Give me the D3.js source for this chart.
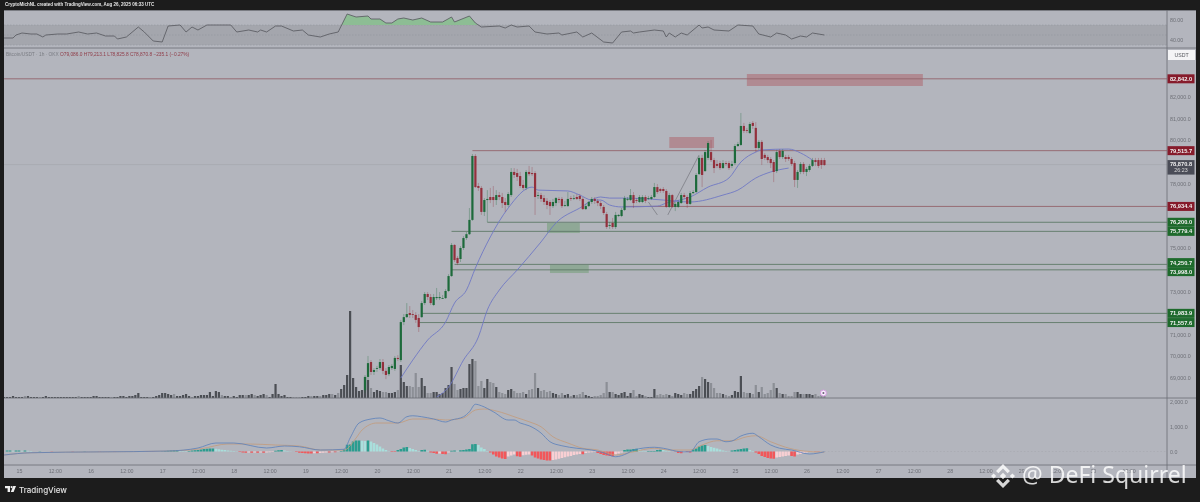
<!DOCTYPE html>
<html>
<head>
<meta charset="utf-8">
<script src="https://cdn.jsdelivr.net/npm/d3@7"></script>
<style>
	html, body { margin: 0; padding: 0; background: #1c1c1c; overflow: hidden; }
	svg { display: block; font-family: "Liberation Sans", sans-serif; filter: blur(0.3px); }
</style>
</head>
<body>
<script>
// SVG Size
let width = 1200,
	height = 502;

// hourly candles, first one is hour 116 counted from Aug 15 00:00
const firstCandleHour = 116;
const candleOpen = [68430,69040,69730,69270,69410,69450,69730,69320,69170,69450,69410,69920,69820,71580,71810,72000,71950,71910,71770,71810,72460,72880,72740,72370,72690,72690,72690,72690,73020,73710,75150,74550,74500,75010,75470,75650,76310,79270,77880,77790,76680,77230,77370,77370,77230,77460,77370,77140,77000,77460,78530,78480,78340,77930,77790,78530,78480,78480,77420,77460,77320,77190,77140,76950,77090,77280,77280,77000,76950,77320,77320,77370,77420,77280,76810,76950,77140,77280,77190,77090,76910,76580,76030,76170,75980,76490,76490,76770,77280,77230,77460,77230,77140,77140,77370,77320,77280,77370,77830,77740,77740,77650,76910,77460,76910,76910,77090,77460,77370,77050,77550,77600,78430,79180,78570,79180,79450,79080,78900,78940,78710,78940,78940,78810,78940,79730,79780,80660,80470,80330,80800,80570,79640,79920,79320,79220,79130,78990,78570,79500,79220,79220,79220,79130,78940,78160,78530,78900,78530,78620,78810,79080,79080,79080,79080];
const candleClose = [69040,69680,69270,69360,69450,69730,69320,69130,69500,69550,69920,69870,71580,71810,71950,71910,71910,71680,71350,72460,72880,72740,72460,72740,72740,72740,72690,73020,73710,75150,74450,74310,75010,75470,75650,76310,79270,77830,77790,76680,77230,77280,77230,77230,77460,77370,77090,77000,77510,78530,78390,78300,77880,77790,78530,78430,78430,77370,77460,77280,77140,77000,76950,77140,77320,77230,76950,77000,77280,77280,77320,77280,77280,76810,76950,77140,77280,77190,77090,76950,76630,75980,76070,75980,76540,76540,76770,77320,77280,77460,77090,77190,77370,77370,77190,77320,77370,77830,77600,77650,77650,76910,77460,76910,77050,77140,77460,77370,77050,77550,77600,78390,79180,78390,79450,79870,79080,78710,78810,78710,78940,78900,78710,78900,79730,79820,80660,80430,80430,80750,80660,79640,79920,79130,79180,79080,78940,78530,79450,79220,79500,79130,79130,78900,78160,78530,78900,78530,78670,78810,79080,78990,78810,78850,78850];
const candleHigh = [69130,70010,69820,69450,69550,69870,69870,69450,69590,69640,70010,70050,71680,71950,72460,72320,72140,72040,71950,72550,72970,72970,72880,72880,73160,72970,72830,73110,73800,75240,75190,74640,75100,75560,75750,76860,79360,79360,78020,77880,77320,77690,77790,77880,77690,77600,77560,77320,77600,78710,78710,78670,78530,78160,78620,78810,78760,78570,77600,77560,77460,77320,77230,77280,77370,77370,77370,77190,77600,77420,77460,77510,77510,77370,77050,77190,77370,77370,77280,77190,77000,76680,76210,76400,76680,76580,76860,77420,77370,77740,77600,77320,77460,77460,77460,77420,77460,78020,77970,77790,77830,77740,77560,77510,77140,77230,77560,77560,77460,77650,77690,78480,79270,79320,79550,79960,80010,79180,79080,79040,79080,79040,79040,79040,79820,79920,81260,80800,80570,80840,80890,80840,80010,80010,79410,79320,79220,79080,79550,79590,79590,79320,79320,79220,79040,78620,78990,78990,78760,78900,79180,79180,79180,79180,79180];
const candleLow = [68300,68900,69130,69130,69270,69360,69170,68940,69080,69360,69320,69780,69730,71440,71770,71770,71770,71540,71120,71770,72370,72600,72370,72320,72600,72600,72650,72650,72970,73670,74360,74220,74360,74920,75380,75610,76260,77790,77650,76540,76490,76210,77090,76910,77000,77230,76860,76680,76910,77370,78250,78110,77790,77690,77690,78340,78340,76540,77280,77140,77000,76810,76540,76860,76950,77090,76860,76910,76910,77190,77230,77230,77190,76770,76770,76910,77050,77050,76950,76810,76540,75890,75890,75890,75890,76440,76440,76720,77190,77190,76860,77090,77090,77090,77090,77230,77230,77320,77510,77560,77560,76860,76860,76860,76720,76860,77050,77280,76860,77000,77510,77560,78390,77830,78530,79080,78990,78480,78710,78620,78670,78810,78620,78710,78850,79690,79730,80330,80330,80290,80520,79450,79550,78850,79080,78940,78710,78060,78480,79130,79130,78990,79040,78810,77830,77790,78430,78430,78340,78530,78760,78810,78710,78670,78810];

// volume starts at hour -5, long before the first candle
const firstVolumeHour = -5;
const volume = [1,1,1,2,1,1,1,2,2,1, 1,1,1,1,2,1,1,1,1,1, 1,1,1,1,1,2,1,1,1,1, 2,2,1,1,1,1,1,1,1,2, 2,1,2,2,3,
	5,1,1,1,1,1,2,3,5,5, 4,3,4,2,2,3,4,2,1,2, 2,3,3,3,6,2,7,6,3,2, 2,1,2,1,3,3,3,3,4,3, 2,3,4,3,1,4,14,4,2,3, 1,1,1,1,1,1,1,2,2,2,
	2,2,3,3,4,4,3,5,9, 13,23,87,20,11,7,8,
	21,18,10,6,8,7,6,6,5,5,6,8, 33,16,12,12,11,25,11,20,12,5,5,6,6,4,5,10,13,31,
	14,8,9,10,10,34,39,37,12,17,10,19,16,15,11,6,5,4,8,9,7,5,5,6,4,8,9,25,
	10,7,8,6,7,5,4,3,5,3,4,2,3,3,4,6,3,2,
	1,2,2,3,5,16,6,6,4,3,5,6,2,5,8,2,4,3,2,1,1,9,3,4,3,4,3,2,5,4,3,5,4,4,7,9,12,21,19,16,15,10,5,5,4,3,2,3,7,6,22,6,5,5,4,13,6,11,4,5,8,15,10,5,4,4,2,2,6,6,4,4,4,4,3,4,2,3,2];
// hours before the first candle whose volume bar is the lighter (down) grey
const lightVolumeHours = [2,7,20,31,44,52,58,68,71,76,79,83,92,93,94,98,101,105,107];

// moving averages
const maFastHours = [128,132,137,143,146,150,153,158,164,172,174,184,188,192,195,198,202,214,217,225,231,238,242,247,249,258,262,266];
const maFastValues = [68990,69820,70750,71580,72460,73060,74080,75520,76860,77830,77690,77650,77460,77230,77230,77000,76910,76950,77090,77370,77830,78250,78990,79450,79550,79590,79410,79080];
const maSlowHours = [140,144,149,154,157,161,167,175,180,188,195,198,202,211,216,225,236,241,247,252,258];
const maSlowValues = [68110,68570,69820,70890,72140,73060,73990,75290,76170,76860,77370,77320,77320,77280,77230,77140,77460,77690,78250,78530,78710];

// hand drawn horizontal levels
const levelPrices = [82842.0,79515.7,76934.4,76200.0,75779.4,74250.7,73998.0,71983.9,71557.6];
const levelKinds = ["red","red","red","green","green","green","green","green","green"];
const levelStartHours = [-5,152,203,157,145,146,145,135,134];

// hand drawn boxes: kind, hour from, hour to, price top, price bottom
const zoneKinds = ["red","red","green","green"];
const zoneFromHours = [244,218,177,178];
const zoneToHours = [303,233,188,191];
const zoneTopPrices = [83065,80148,76166,74222];
const zoneBottomPrices = [82509,79639,75703,73851];

// the two thin drawn strokes near the 24th
const strokeHours = [[211,214],[217.5,228]];
const strokePrices = [[77140,76540],[76540,79315]];

const priceTicks = [82000,81000,80000,78000,75000,73000,71000,70000,69000];
const currentPrice = 78870.8;
const countdown = "26:23";

// RSI pane
const rsiHours = [-5,-2,-1,1,4,6,8,9,13,16,20,23,26,29,32,33,36,40,42,45,48,50,54,56,58,60,63,65,68,71,73,77,80,81,83,86,88,92,95,97,101,104,107,
	108,110,113,117,118,121,123,125,127,129,132,135,138,142,145,146,151,153,155,161,163,165,167,171,173,177,181,182,187,189,192,196,199,202,205,206,208,213,216,217,218,220,222,224,228,229,231,233,238,241,246,248,252,254,257,259,262,264,266,270];
const rsiValues = [44,44,50,54,52,52,46,50,52,52,56,52,54,48,48,42,46,66,56,38,36,68,70,56,66,60,70,70,70,70,56,60,56,60,56,68,68,58,60,50,46,52,56,
	68,92,86,88,82,82,74,74,82,84,80,84,76,76,86,76,88,74,66,68,64,70,66,68,56,52,54,50,56,46,54,36,34,56,58,54,56,60,58,46,54,46,54,50,70,64,66,60,58,70,68,52,46,54,50,42,48,46,54,50];
const rsiTicks = [80,40];

// MACD pane
const macdHours = [-5,4,50,60,66,72,83,89,94,101,109,111,114,118,121,124,127,130,132,135,139,143,145,149,151,153,155,159,164,166,168,171,175,178,182,187,192,196,200,204,206,213,216,222,225,228,232,234,237,239,242,246,248,252,255,259,265,270];
const macdValues = [-140,-50,20,140,340,340,140,220,190,60,90,540,1140,1300,1340,1230,1140,1390,1430,1390,1300,1180,1260,1390,1590,1890,1830,1590,1260,1260,1140,1030,740,390,230,130,60,-50,-210,-70,60,170,130,-10,-10,390,500,500,390,420,620,730,590,260,130,60,-100,-10];
const signalHours = [-5,4,50,61,70,77,86,94,101,109,113,115,120,127,132,139,143,149,153,156,160,167,171,175,179,184,189,194,196,200,206,213,218,225,229,234,239,244,247,252,257,263,270];
const signalValues = [-140,-50,20,110,300,300,260,220,60,60,540,860,1140,1140,1300,1300,1260,1340,1660,1700,1620,1350,1190,990,590,340,130,60,-10,-140,-10,130,60,60,260,430,430,590,630,390,170,20,-30];
const histogram = [0,40,40,30,40, 40,30,40,30,20, 0,0,10,0,0,0,-10,0,0,0, 0,0,0,-10,0,0,0,10,0,0, 0,0,-10,0,0,0,0,-10,0,0, 0,0,0,0,0,10,0,0,-10,-10,
	-10,0,0,10,20,30, 40,50,60,50,30,20,20,40,50, 60,80,100,110,120,120,110, 90,70,60,40,30,20,10,
	-20,-40,-50,-40,-50,-40,-50,-40,-50,-40,-30,-20, 30,50,60,40,20, 10,0,-20,-50, -60,-70,-80,-80,-70,-70,-60, -50,-40,-40,-30,-30,-10,20,
	80,270,280,400,440,440, 430,420,440, 400,340,280,200,120,60, 10,-20,-20, 60,100,160,180, 140,100,60,20,60,70, 30,
	-40,-60,-90,-80,-100,-110, -40, 30,40,30, 50,60,80,100,290,300, 260,160,100,20,
	-40,-120,-200,-240,-280,-300, -200,-160,-120, -190,-210, -150,-130,-120,
	-160,-240,-280,-320,-340,-360,-360, -340,-320,-290,-260,-230,-200,-180,-140,-120,-100, -110, -60,-40,-30,-20,
	-60,-100,-140,-160,-180,-190, -120,-80,-40, 60,80,80,100,110,80, 30,20,20,20,20, 60,70,60,40,20, 0,-10, -60,-70,-20, -20,-40,
	80,120,200,240, 260,220,180,150,120,80,40,20, 10, 40,60,80,100,120,130, 60,20,
	-40,-100,-180,-220,-260,-280,-290, -240,-220,-200,-180,-160, -180,-200, -120,-100,-60,-40,-20, -10,-10,-10,0,0];
const macdTicks = [2000,1000,0];

// time axis, hour 0 is Aug 15 00:00, a tick every 12 hours
const timeLabels = ["15","12:00","16","12:00","17","12:00","18","12:00","19","12:00","20","12:00","21","12:00","22","12:00","23","12:00","24","12:00","25","12:00","26","12:00","27","12:00","28","12:00","29","12:00","30","12:00"];
const timeHours = timeLabels.map(function(d, i) { return i * 12; });

// pane frame
const margin = {left: 4, right: 1196, top: 10, bottom: 478, plotRight: 1167};
const rsiBottom = 48, volumeBottom = 398, macdBottom = 465;

const colors = {
	dark: "#1c1c1c", pane: "#b3b5bd", band: "#a4a6ad", sep: "#6b6d74", text: "#6e7077",
	up: "#1d6a3b", down: "#93303c", blue: "#6f78c4",
	lineRed: "#93646b", lineGreen: "#5f7a68", zoneRed: "#b08a92", zoneGreen: "#8fa896",
	tagRed: "#861b2b", tagGreen: "#1e6a2c",
	volUp: "#4b4e54", volDown: "#8c8f96",
	macd: "#5b80bb", signal: "#c39a7a", histUp: "#2a9d8f", histUpFade: "#a9dfdc", histDown: "#f2575a", histDownFade: "#f8cfd3"
};

var svg = d3.select("body").append("svg")
	.attr("width", width)
	.attr("height", height);

// scales
const x = d3.scaleLinear().domain([0, 384]).range([19, 19 + 384 * 2.983]);
const y = d3.scaleLinear().domain([69000, 82000]).range([377.8, 97]);
const rsiY = d3.scaleLinear().domain([80, 40]).range([20, 40]);
const volY = d3.scaleLinear().domain([0, 87]).range([volumeBottom, volumeBottom - 87]);
const macdY = d3.scaleLinear().domain([0, 2000]).range([451.5, 401.5]);

// background
svg.append("rect").attr("width", width).attr("height", height).attr("fill", colors.dark);
svg.append("rect")
	.attr("x", margin.left).attr("y", margin.top)
	.attr("width", margin.right - margin.left).attr("height", margin.bottom - margin.top)
	.attr("fill", colors.pane);

svg.append("defs").append("clipPath").attr("id", "plot-clip")
	.append("rect")
	.attr("x", margin.left).attr("y", margin.top)
	.attr("width", margin.plotRight - margin.left).attr("height", margin.bottom - margin.top);

var plot = svg.append("g").attr("clip-path", "url(#plot-clip)");

// ---- RSI ----
plot.append("rect")
	.attr("x", margin.left).attr("width", margin.plotRight - margin.left)
	.attr("y", rsiY(70)).attr("height", rsiY(30) - rsiY(70))
	.attr("fill", colors.band);

[70, 50, 30].forEach(function(level) {
	plot.append("line")
		.attr("x1", margin.left).attr("x2", margin.plotRight)
		.attr("y1", rsiY(level)).attr("y2", rsiY(level))
		.attr("stroke", "#8f9198").attr("stroke-width", 0.5)
		.attr("stroke-dasharray", "1.5,1.5");
});

const rsiPoints = d3.zip(rsiHours, rsiValues);

svg.select("defs").append("clipPath").attr("id", "rsi-clip")
	.append("rect")
	.attr("x", margin.left).attr("y", margin.top)
	.attr("width", margin.plotRight - margin.left).attr("height", rsiY(70) - margin.top);

plot.append("path")
	.datum(rsiPoints)
	.attr("clip-path", "url(#rsi-clip)")
	.attr("fill", "#8dbd94")
	.attr("d", d3.area()
		.x(function(d) { return x(d[0]); })
		.y0(rsiY(70))
		.y1(function(d) { return rsiY(d[1]); }));

plot.append("path")
	.datum(rsiPoints)
	.attr("fill", "none")
	.attr("stroke", "#55575d")
	.attr("stroke-width", 0.8)
	.attr("d", d3.line()
		.x(function(d) { return x(d[0]); })
		.y(function(d) { return rsiY(d[1]); }));

// ---- zones and levels sit under the candles ----
zoneKinds.forEach(function(kind, i) {
	plot.append("rect")
		.attr("x", x(zoneFromHours[i]))
		.attr("width", x(zoneToHours[i]) - x(zoneFromHours[i]))
		.attr("y", y(zoneTopPrices[i]))
		.attr("height", y(zoneBottomPrices[i]) - y(zoneTopPrices[i]))
		.attr("fill", kind === "red" ? colors.zoneRed : colors.zoneGreen);
});

// last price line
plot.append("line")
	.attr("x1", margin.left).attr("x2", margin.plotRight)
	.attr("y1", y(currentPrice)).attr("y2", y(currentPrice))
	.attr("stroke", "#a2a4ab").attr("stroke-width", 0.6);

levelPrices.forEach(function(price, i) {
	plot.append("line")
		.attr("x1", Math.max(x(levelStartHours[i]), margin.left)).attr("x2", margin.plotRight)
		.attr("y1", y(price)).attr("y2", y(price))
		.attr("stroke", levelKinds[i] === "red" ? colors.lineRed : colors.lineGreen)
		.attr("stroke-width", 0.9);
});

strokeHours.forEach(function(hours, i) {
	plot.append("line")
		.attr("x1", x(hours[0])).attr("x2", x(hours[1]))
		.attr("y1", y(strokePrices[i][0])).attr("y2", y(strokePrices[i][1]))
		.attr("stroke", "#74767d").attr("stroke-width", 0.7);
});

// ---- volume ----
plot.selectAll(".vol")
	.data(volume)
	.enter()
	.append("rect")
	.attr("class", "vol")
	.attr("x", function(d, i) { return x(firstVolumeHour + i) - 1.1; })
	.attr("width", 2.2)
	.attr("y", function(d) { return volY(d); })
	.attr("height", function(d) { return volumeBottom - volY(d); })
	.attr("fill", function(d, i) {
		let hour = firstVolumeHour + i;
		let light;
		if (hour < firstCandleHour) {
			light = lightVolumeHours.includes(hour);
		} else {
			let c = hour - firstCandleHour;
			light = candleClose[c] < candleOpen[c];
		}
		return light ? colors.volDown : colors.volUp;
	});

// ---- moving averages ----
[[maFastHours, maFastValues], [maSlowHours, maSlowValues]].forEach(function(ma) {
	plot.append("path")
		.datum(d3.zip(ma[0], ma[1]))
		.attr("fill", "none")
		.attr("stroke", colors.blue)
		.attr("stroke-width", 0.9)
		.attr("d", d3.line()
			.curve(d3.curveMonotoneX)
			.x(function(d) { return x(d[0]); })
			.y(function(d) { return y(d[1]); }));
});

// ---- candles ----
var candles = plot.selectAll(".candle")
	.data(candleOpen)
	.enter()
	.append("g")
	.attr("class", "candle")
	.attr("fill", function(d, i) { return candleClose[i] >= d ? colors.up : colors.down; })
	.attr("stroke", function(d, i) { return candleClose[i] >= d ? colors.up : colors.down; });

candles.append("line")
	.attr("x1", function(d, i) { return x(firstCandleHour + i); })
	.attr("x2", function(d, i) { return x(firstCandleHour + i); })
	.attr("y1", function(d, i) { return y(candleHigh[i]); })
	.attr("y2", function(d, i) { return y(candleLow[i]); })
	.attr("stroke-opacity", 0.55)
	.attr("stroke-width", 0.6);

candles.append("rect")
	.attr("x", function(d, i) { return x(firstCandleHour + i) - 1.1; })
	.attr("width", 2.2)
	.attr("y", function(d, i) { return y(Math.max(d, candleClose[i])); })
	.attr("height", function(d, i) { return Math.max(0.8, Math.abs(y(d) - y(candleClose[i]))); })
	.attr("stroke", "none");

// little marker at the last bar
const lastHour = firstCandleHour + candleOpen.length - 1;
plot.append("circle")
	.attr("cx", x(lastHour) - 1).attr("cy", volY(5))
	.attr("r", 3).attr("fill", "#f7eefb")
	.attr("stroke", "#d59be0").attr("stroke-width", 1);
plot.append("circle")
	.attr("cx", x(lastHour) - 1).attr("cy", volY(5))
	.attr("r", 1).attr("fill", "#6b5a78");

// ---- MACD ----
plot.append("line")
	.attr("x1", x(lastHour)).attr("x2", margin.plotRight)
	.attr("y1", macdY(0)).attr("y2", macdY(0))
	.attr("stroke", "#a2a4ab").attr("stroke-width", 0.5)
	.attr("stroke-dasharray", "1.5,2");

plot.selectAll(".hist")
	.data(histogram)
	.enter()
	.append("rect")
	.attr("class", "hist")
	.attr("x", function(d, i) { return x(firstVolumeHour + i) - 1.3; })
	.attr("width", 2.6)
	.attr("y", function(d) { return d >= 0 ? macdY(d) : macdY(0); })
	.attr("height", function(d) { return Math.abs(macdY(d) - macdY(0)); })
	.attr("fill", function(d, i) {
		let prev = i > 0 ? histogram[i - 1] : 0;
		if (d >= 0) return d >= prev ? colors.histUp : colors.histUpFade;
		return d <= prev ? colors.histDown : colors.histDownFade;
	});

var macdLine = d3.line()
	.curve(d3.curveMonotoneX)
	.x(function(d) { return x(d[0]); })
	.y(function(d) { return macdY(d[1]); });

plot.append("path")
	.datum(d3.zip(signalHours, signalValues))
	.attr("fill", "none").attr("stroke", colors.signal).attr("stroke-width", 0.8)
	.attr("d", macdLine);

plot.append("path")
	.datum(d3.zip(macdHours, macdValues))
	.attr("fill", "none").attr("stroke", colors.macd).attr("stroke-width", 0.8)
	.attr("d", macdLine);

// ---- pane separators ----
[[margin.top + 0.5, margin.right], [rsiBottom, margin.right], [volumeBottom, margin.right], [macdBottom, margin.right]].forEach(function(s) {
	svg.append("line")
		.attr("x1", margin.left).attr("x2", s[1])
		.attr("y1", s[0]).attr("y2", s[0])
		.attr("stroke", colors.sep).attr("stroke-width", 0.8);
});
svg.append("line")
	.attr("x1", margin.plotRight).attr("x2", margin.plotRight)
	.attr("y1", margin.top).attr("y2", margin.bottom)
	.attr("stroke", colors.sep).attr("stroke-width", 0.8);

// ---- axes ----
var styleAxis = function(g) {
	g.select(".domain").remove();
	g.selectAll(".tick line").remove();
	g.selectAll("text")
		.attr("fill", colors.text)
		.attr("font-size", 5.3)
		.attr("font-family", "Liberation Sans, sans-serif");
};

var addRightAxis = function(scale, ticks, format) {
	svg.append("g")
		.attr("transform", "translate(" + (margin.plotRight + 3) + ",0)")
		.call(d3.axisRight(scale).tickValues(ticks).tickFormat(format).tickSize(0).tickPadding(0))
		.call(styleAxis);
};

addRightAxis(y, priceTicks, d3.format(",.1f"));
addRightAxis(rsiY, rsiTicks, d3.format(".2f"));
addRightAxis(macdY, macdTicks, d3.format(",.1f"));

svg.append("g")
	.attr("transform", "translate(0," + (macdBottom + 2.5) + ")")
	.call(d3.axisBottom(x).tickValues(timeHours)
		.tickFormat(function(d, i) { return timeLabels[i]; })
		.tickSize(0).tickPadding(2))
	.call(styleAxis);

// ---- price tags on the right scale, pushed apart when they would touch ----
const tagHeight = 9;
let tagCentres = levelPrices.map(function(p) { return y(p); });
for (let i = 1; i < tagCentres.length; i++) {
	let gap = tagCentres[i] - tagCentres[i - 1];
	if (gap < tagHeight) {
		let push = (tagHeight - gap) / 2;
		tagCentres[i - 1] -= push;
		tagCentres[i] += push;
	}
}

var tags = svg.selectAll(".tag")
	.data(levelPrices)
	.enter()
	.append("g")
	.attr("class", "tag")
	.attr("transform", function(d, i) { return "translate(" + (margin.plotRight + 0.5) + "," + tagCentres[i] + ")"; });

tags.append("rect")
	.attr("y", -tagHeight / 2)
	.attr("width", 27).attr("height", tagHeight)
	.attr("fill", function(d, i) { return levelKinds[i] === "red" ? colors.tagRed : colors.tagGreen; });

tags.append("text")
	.attr("x", 13.5).attr("y", 2)
	.attr("text-anchor", "middle")
	.attr("font-size", 5.7).attr("font-weight", "bold")
	.attr("fill", "#f2f2f2")
	.text(function(d) { return d3.format(",.1f")(d); });

// current price tag
var nowTag = svg.append("g")
	.attr("transform", "translate(" + (margin.plotRight + 0.5) + "," + y(currentPrice) + ")");
nowTag.append("rect")
	.attr("y", -4.5).attr("width", 27).attr("height", 14.5)
	.attr("fill", "#4a4c57");
nowTag.append("text")
	.attr("x", 13.5).attr("y", 1.4).attr("text-anchor", "middle")
	.attr("font-size", 5.7).attr("font-weight", "bold").attr("fill", "#eeeeee")
	.text(d3.format(",.1f")(currentPrice));
nowTag.append("text")
	.attr("x", 13.5).attr("y", 7.6).attr("text-anchor", "middle")
	.attr("font-size", 5.3).attr("fill", "#dddddd")
	.text(countdown);

// currency box
svg.append("rect")
	.attr("x", margin.plotRight + 1).attr("y", 50)
	.attr("width", 27).attr("height", 10)
	.attr("fill", "#f4f4f6");
svg.append("text")
	.attr("x", margin.plotRight + 14.5).attr("y", 57)
	.attr("text-anchor", "middle")
	.attr("font-size", 5.2).attr("fill", "#55575d")
	.text("USDT");

// ---- titles ----
svg.append("text")
	.attr("x", 5).attr("y", 6.4)
	.attr("font-size", 4.5).attr("font-weight", "bold").attr("fill", "#e6e6e6")
	.text("CryptoMichNL created with TradingView.com, Aug 26, 2025 06:33 UTC");

var legend = svg.append("text")
	.attr("x", 6).attr("y", 56)
	.attr("font-size", 4.8).attr("fill", "#7a7c83");
legend.append("tspan").text("Bitcoin/USDT · 1h · OKX  ");
legend.append("tspan").attr("fill", "#8f3b47")
	.text("O79,086.0 H79,213.1 L78,825.8 C78,870.8 −235.1 (−0.27%)");

// footer logo and name
var tvLogo = svg.append("g").attr("transform", "translate(5,486)").attr("fill", "#f0f0f0");
tvLogo.append("path").attr("d", "M0 0H5V6H2.6V2.2H0Z");
tvLogo.append("circle").attr("cx", 6.6).attr("cy", 1.1).attr("r", 1.1);
tvLogo.append("path").attr("d", "M8.2 0H11L8.6 6H5.8Z");
svg.append("text")
	.attr("x", 19).attr("y", 493)
	.attr("font-family", "Inter, sans-serif")
	.attr("font-size", 8).attr("font-weight", 500).attr("fill", "#e4e4e4")
	.text("TradingView");

// watermark over the chart
var mark = svg.append("g")
	.attr("transform", "translate(1003,476)")
	.attr("fill", "#ffffff").attr("fill-opacity", 0.82);
mark.append("path").attr("d", "M-3.2 0L0 -3.2L3.2 0L0 3.2Z");
mark.append("path").attr("d", "M-12 0L-9.4 -2.6L-6.8 0L-9.4 2.6Z");
mark.append("path").attr("d", "M12 0L9.4 -2.6L6.8 0L9.4 2.6Z");
mark.append("path").attr("d", "M0 -12L7 -5L4.6 -2.8L0 -7.4L-4.6 -2.8L-7 -5Z");
mark.append("path").attr("d", "M0 12L7 5L4.6 2.8L0 7.4L-4.6 2.8L-7 5Z");

svg.append("text")
	.attr("x", 1022).attr("y", 483)
	.attr("font-family", "Noto Sans, sans-serif")
	.attr("font-size", 23)
	.attr("fill", "#ffffff").attr("fill-opacity", 0.82)
	.text("@ DeFi Squirrel");
</script>
</body>
</html>
